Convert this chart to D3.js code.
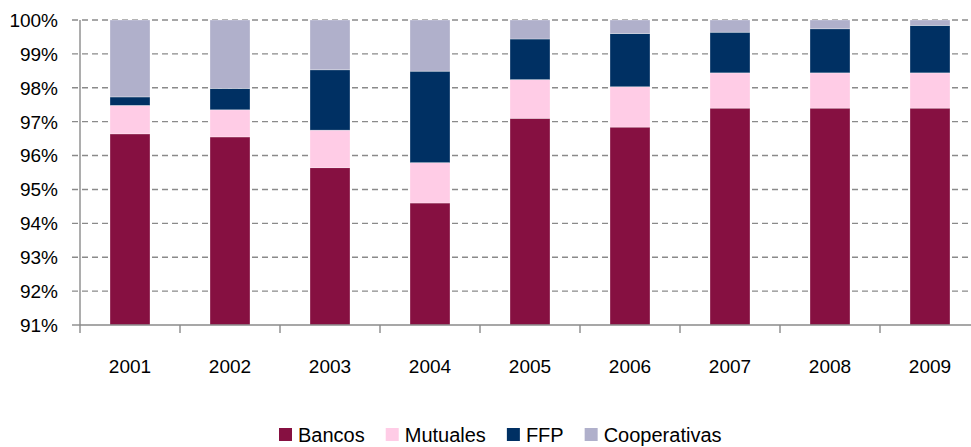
<!DOCTYPE html>
<meta charset="utf-8">
<style>
body{margin:0;background:#fff;}
text{font-family:"Liberation Sans",Arial,sans-serif;fill:#000;}
.grid line{stroke:#8a8a8a;stroke-width:1.4px;stroke-dasharray:6,4;}
.axisline{stroke:#8a8a8a;stroke-width:1.4px;}
</style>
<body>
<script src="https://d3js.org/d3.v7.min.js"></script>
<script>
// ---------- data ----------
var years = ["2001","2002","2003","2004","2005","2006","2007","2008","2009"];
var bancos       = [96.64, 96.55, 95.64, 94.60, 97.10, 96.84, 97.40, 97.40, 97.40];
var mutuales     = [0.84, 0.80, 1.11, 1.19, 1.14, 1.19, 1.04, 1.04, 1.04];
var ffp          = [0.25, 0.63, 1.78, 2.70, 1.20, 1.57, 1.20, 1.30, 1.40];
var cooperativas = [2.27, 2.02, 1.47, 1.51, 0.56, 0.40, 0.36, 0.26, 0.16];
var yTicks = [91,92,93,94,95,96,97,98,99,100];

var keys = ["Bancos","Mutuales","FFP","Cooperativas"];
var color = {Bancos:"#861041", Mutuales:"#ffcce6", FFP:"#003063", Cooperativas:"#b0b0cb"};

var rows = years.map(function(y,i){
    return {year:y, Bancos:bancos[i], Mutuales:mutuales[i], FFP:ffp[i], Cooperativas:cooperativas[i]};
});

var W = 971, H = 447;
var svg = d3.select("body").append("svg").attr("width",W).attr("height",H);

// plot runs past the right edge, like the cropped original
var x = d3.scaleBand().domain(years).range([80,980]).paddingInner(0.6).paddingOuter(0.3);
var y = d3.scaleLinear().domain([91,100]).range([325,20]);

// gridlines
svg.append("g").attr("class","grid")
    .selectAll("line").data(yTicks.filter(function(d){return d>91;}))
    .enter().append("line")
    .attr("x1",72).attr("x2",980)
    .attr("y1",function(d){return y(d);}).attr("y2",function(d){return y(d);});

// stacked bars (axis starts at 91%, so clip to it)
var series = d3.stack().keys(keys)(rows);

svg.append("g").selectAll("g").data(series).enter().append("g")
    .attr("fill",function(d){return color[d.key];})
    .selectAll("rect").data(function(d){return d;})
    .enter().append("rect")
    .attr("x",function(d){return x(d.data.year);})
    .attr("width",x.bandwidth())
    .attr("y",function(d){return y(Math.min(d[1],100));})
    .attr("height",function(d){return y(Math.max(d[0],91)) - y(Math.min(d[1],100));})
    .attr("stroke","#fff").attr("stroke-opacity",0.5).attr("stroke-width",0.6);

// y axis
svg.append("line").attr("class","axisline").attr("x1",80).attr("x2",80).attr("y1",y(100)).attr("y2",y(91));
svg.append("line").attr("class","axisline").attr("x1",72).attr("x2",80).attr("y1",y(91)).attr("y2",y(91));
svg.append("g").selectAll("text").data(yTicks).enter().append("text")
    .attr("x",58).attr("y",function(d){return y(d);}).attr("dy","0.36em")
    .attr("text-anchor","end").style("font-size","19px")
    .text(function(d){return d+"%";});

// x axis
svg.append("line").attr("class","axisline").attr("x1",80).attr("x2",980).attr("y1",y(91)).attr("y2",y(91));
var half = (x.step()-x.bandwidth())/2;
svg.append("g").selectAll("line").data(years).enter().append("line")
    .attr("class","axisline")
    .attr("x1",function(d){return x(d)-half;}).attr("x2",function(d){return x(d)-half;})
    .attr("y1",y(91)).attr("y2",y(91)+8);
svg.append("g").selectAll("text").data(years).enter().append("text")
    .attr("x",function(d){return x(d)+x.bandwidth()/2;}).attr("y",373)
    .attr("text-anchor","middle").style("font-size","19px")
    .text(function(d){return d;});

// legend
var lg = svg.append("g");
var lx = 279;
keys.forEach(function(k){
    lg.append("rect").attr("x",lx).attr("y",428).attr("width",13).attr("height",13).attr("fill",color[k]);
    var t = lg.append("text").attr("x",lx+19).attr("y",442).style("font-size","20px").text(k);
    lx += 19 + t.node().getComputedTextLength() + 21;
});
</script>
</body>
</html>
